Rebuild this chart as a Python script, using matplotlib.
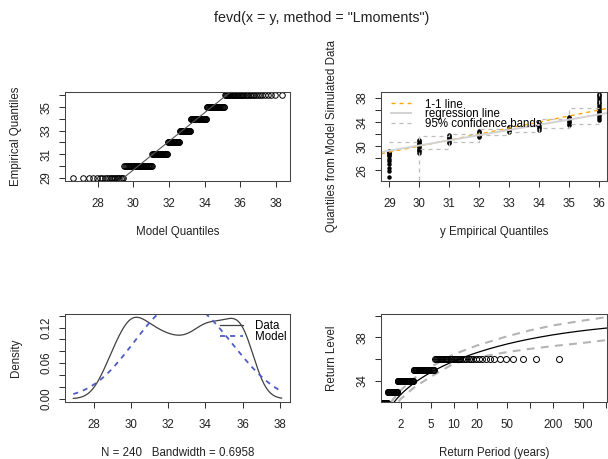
import matplotlib
matplotlib.use('Agg')
import matplotlib.pyplot as plt
import numpy as np
from matplotlib.lines import Line2D
from matplotlib.ticker import NullLocator

plt.rcParams['font.family'] = ['Liberation Sans', 'DejaVu Sans']

# observed maxima: distinct values and how often each occurs (N = 240)
values = [29, 30, 31, 32, 33, 34, 35, 36]
counts = [20, 38, 30, 26, 24, 33, 30, 39]

# fitted GEV (L-moments)
gev_loc = 31.92
gev_scale = 2.38
gev_shape = -0.30
bandwidth = 0.6958

# panel 2: simulated-data quantiles seen at each empirical value
sim_29 = [24.85, 25.85, 26.4, 26.95, 27.5, 27.9, 28.3, 28.55, 28.7, 28.85, 29.0, 29.1, 29.25]
sim_30 = [28.9, 29.15, 29.4, 29.6, 29.8, 30.0, 30.15, 30.3, 30.5, 30.7, 30.9, 31.05]
sim_31 = [30.55, 30.75, 30.95, 31.15, 31.3, 31.5, 31.65, 31.85]
sim_32 = [31.45, 31.65, 31.85, 32.0, 32.2, 32.35, 32.55]
sim_33 = [32.3, 32.5, 32.7, 32.9, 33.1, 33.25]
sim_34 = [32.7, 32.95, 33.2, 33.45, 33.7, 33.9, 34.05]
sim_35 = [33.45, 33.7, 33.95, 34.2, 34.45, 34.7, 34.9]
sim_36 = [34.35, 34.7, 35.0, 35.3, 35.6, 35.9, 36.2, 36.5, 36.8, 37.1, 37.4,
          37.7, 38.0, 38.3, 38.55, 38.75]
qq_band_upper = [30.75, 31.75, 31.95, 32.85, 33.4, 34.5, 36.3, 38.9]
qq_band_lower = [24.0, 29.6, 30.7, 31.9, 32.4, 33.0, 33.65, 34.3]
qq_reg_intercept = 4.30
qq_reg_slope = 0.86

# panel 4: 95% confidence band of the return level curve
rl_ci_periods = [1.2, 1.5, 2, 3, 5, 10, 20, 50, 100, 200, 500, 1000]
rl_ci_lower = [29.9, 31.25, 32.35, 33.4, 34.4, 35.6, 36.15, 36.65, 36.95, 37.2, 37.5, 37.75]
rl_ci_upper = [30.9, 32.1, 33.15, 34.25, 35.3, 36.45, 37.25, 38.1, 38.65, 39.1, 39.55, 39.86]


def gev_q(p):
    return gev_loc + gev_scale / gev_shape * ((-np.log(p)) ** (-gev_shape) - 1)


def gev_pdf(x):
    z = 1 + gev_shape * (x - gev_loc) / gev_scale
    out = np.zeros_like(x)
    ok = z > 0
    t = z[ok] ** (-1 / gev_shape)
    out[ok] = t ** (gev_shape + 1) * np.exp(-t) / gev_scale
    return out


def rrange(lo, hi):
    d = 0.04 * (hi - lo)
    return lo - d, hi + d


y = np.repeat(values, counts).astype(float)
n = len(y)
pp = np.arange(1, n + 1) / (n + 1)
model_q = gev_q(pp)

W, H = 608, 459
fig = plt.figure(figsize=(W / 100, H / 100), dpi=100)
FS = 8.3
INK = '#222222'


def panel(box):
    left, top, right, bottom = box
    ax = fig.add_axes([left / W, 1 - bottom / H, (right - left) / W, (bottom - top) / H])
    ax.tick_params(direction='out', length=4.3, width=0.75, labelsize=FS,
                   color='#333333', labelcolor=INK)
    ax.tick_params(axis='x', pad=8.2)
    ax.tick_params(axis='y', pad=5.0, labelrotation=90)
    for s in ax.spines.values():
        s.set_linewidth(0.75)
        s.set_color('#444444')
    return ax


def finish(ax, box, xlab, ylab):
    left, top, right, bottom = box
    ax.set_xlabel(xlab, fontsize=FS, color=INK)
    ax.xaxis.set_label_coords(0.5, -54.4 / (bottom - top))
    ax.xaxis.label.set_va('baseline')
    ax.set_ylabel(ylab, fontsize=FS, color=INK)
    ax.yaxis.set_label_coords(-46.0 / (right - left), 0.5)
    ax.yaxis.label.set_va('baseline')
    for t in ax.yaxis.get_major_ticks():
        t.label1.set_verticalalignment('center')


def ticks(axis, locs, labels):
    axis.set_ticks(locs)
    axis.set_ticklabels(labels)


# ---- panel 1: model vs empirical quantiles
box1 = (65, 92, 290, 181)
ax1 = panel(box1)
ax1.plot(model_q, y, 'o', mfc='none', mec='k', ms=4, mew=0.7)
q1, q3 = np.quantile(y, [0.25, 0.75])
m1, m3 = gev_q(np.array([0.25, 0.75]))
ax1.axline((m1, q1), slope=(q3 - q1) / (m3 - m1), color='#555555', lw=0.8)
ax1.set_xlim(*rrange(model_q.min(), model_q.max()))
ax1.set_ylim(*rrange(y.min(), y.max()))
ticks(ax1.xaxis, [28, 30, 32, 34, 36, 38], ['28', '30', '32', '34', '36', '38'])
ticks(ax1.yaxis, values, ['29', '', '31', '', '33', '', '35', ''])
finish(ax1, box1, 'Model Quantiles', 'Empirical Quantiles')

# ---- panel 2: empirical vs simulated quantiles
box2 = (381, 92, 607, 181)
ax2 = panel(box2)
sims = [sim_29, sim_30, sim_31, sim_32, sim_33, sim_34, sim_35, sim_36]
for v, s in zip(values, sims):
    ax2.plot([v] * len(s), s, 'o', color='k', ms=3.2, mew=0)
ax2.axline((29, 29), slope=1, color='#FFA500', lw=1.0, dashes=(2.9, 2.9))
ax2.axline((0, qq_reg_intercept), slope=qq_reg_slope, color='#D3D3D3', lw=1.4)
band_kw = dict(drawstyle='steps-post', color='#BEBEBE', lw=0.9, dashes=(3.2, 3.2))
ax2.plot(values, qq_band_upper, **band_kw)
ax2.plot(values, qq_band_lower, **band_kw)
ax2.set_xlim(*rrange(29, 36))
ax2.set_ylim(24.2, 39.0)
ticks(ax2.xaxis, values, [str(v) for v in values])
ticks(ax2.yaxis, [26, 28, 30, 32, 34, 36, 38], ['26', '', '30', '', '34', '', '38'])
h2 = [Line2D([], [], color='#FFA500', lw=1.0, dashes=(2.9, 2.9)),
      Line2D([], [], color='#D3D3D3', lw=1.4),
      Line2D([], [], color='#BEBEBE', lw=0.9, dashes=(3.2, 3.2))]
ax2.legend(h2, ['1-1 line', 'regression line', '95% confidence bands'],
           loc='upper left', bbox_to_anchor=((391 - 381) / 226, (181 - 98.5) / 89),
           frameon=False, fontsize=FS, borderpad=0, borderaxespad=0,
           handlelength=1.74, handletextpad=1.25, labelspacing=-0.2)
finish(ax2, box2, 'y Empirical Quantiles', 'Quantiles from Model Simulated Data')

# ---- panel 3: density
box3 = (65, 314, 290, 402)
ax3 = panel(box3)
grid = np.linspace(y.min() - 3 * bandwidth, y.max() + 3 * bandwidth, 512)
dens = np.exp(-0.5 * ((grid[:, None] - y[None, :]) / bandwidth) ** 2).sum(1) / (
    n * bandwidth * np.sqrt(2 * np.pi))
ax3.plot(grid, dens, color='#404040', lw=0.9, label='Data')
ax3.plot(grid, gev_pdf(grid), color='#4C5CC8', lw=1.3, dashes=(2.8, 2.8), label='Model')
ax3.set_xlim(*rrange(grid.min(), grid.max()))
ax3.set_ylim(*rrange(0, dens.max()))
ticks(ax3.xaxis, [28, 30, 32, 34, 36, 38], ['28', '30', '32', '34', '36', '38'])
ticks(ax3.yaxis, [0, 0.02, 0.04, 0.06, 0.08, 0.10, 0.12, 0.14],
      ['0.00', '', '', '0.06', '', '', '0.12', ''])
ax3.legend(loc='upper left', bbox_to_anchor=((220 - 65) / 225, (402 - 320.0) / 88),
           frameon=False, fontsize=FS, borderpad=0, borderaxespad=0,
           handlelength=2.0, handletextpad=1.0, labelspacing=-0.12)
finish(ax3, box3, 'N = 240   Bandwidth = 0.6958', 'Density')

# ---- panel 4: return levels
box4 = (381, 314, 607, 402)
ax4 = panel(box4)
ax4.set_xscale('log')
periods = np.geomspace(1.05, 1023, 400)
ax4.plot(periods, gev_q(1 - 1 / periods), color='k', lw=0.9)
ax4.plot(rl_ci_periods, rl_ci_lower, color='#B4B4B4', lw=1.5, dashes=(3.8, 3.0))
ax4.plot(rl_ci_periods, rl_ci_upper, color='#B4B4B4', lw=1.5, dashes=(3.8, 3.0))
ax4.plot(-1 / np.log(pp), y, 'o', mfc='none', mec='k', ms=4.3, mew=0.7)
ax4.set_xlim(1.10, 1023)
ax4.set_ylim(32.06, 40.15)
ax4.xaxis.set_minor_locator(NullLocator())
ticks(ax4.xaxis, [2, 5, 10, 20, 50, 100, 200, 500, 1000],
      ['2', '5', '10', '20', '50', '', '200', '500', ''])
ticks(ax4.yaxis, [34, 36, 38, 40], ['34', '', '38', ''])
finish(ax4, box4, 'Return Period (years)', 'Return Level')

fig.text(321.7 / W, 1 - 22.2 / H, 'fevd(x = y, method = "Lmoments")',
         ha='center', va='baseline', fontsize=10.3, color=INK)

fig.savefig('out.png', dpi=100)
